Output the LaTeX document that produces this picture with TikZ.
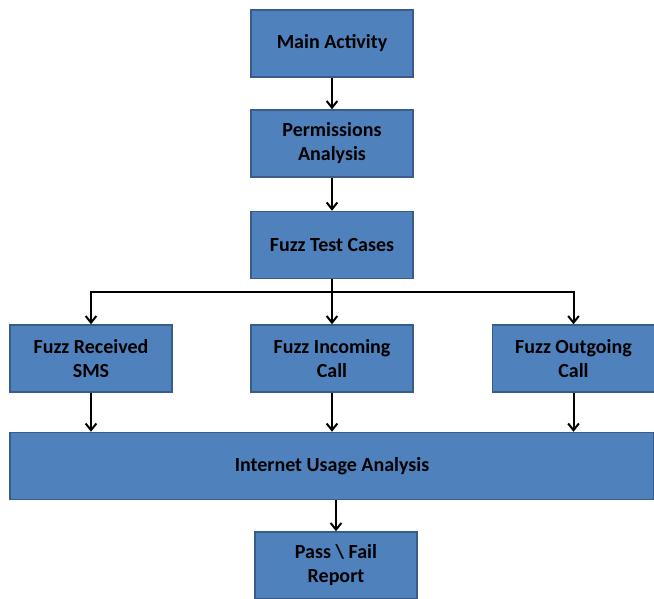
\documentclass[tikz,border=0pt]{standalone}
\usepackage{fontspec}
\setmainfont{Carlito}
\usetikzlibrary{arrows.meta}
\definecolor{boxfill}{HTML}{4F81BD}
\definecolor{boxline}{HTML}{385D8A}
\begin{document}
\begin{tikzpicture}[x=0.75pt,y=-0.75pt,
  stepbox/.style={draw=boxline,line width=1.1pt,fill=boxfill,minimum width=121.5pt,minimum height=50.25pt,
    align=center,font=\fontsize{15}{18}\selectfont\bfseries,inner sep=0pt},
  arr/.style={line width=1.5pt,-{Straight Barb[length=5pt,width=8pt,line width=1.5pt]}}]
\useasboundingbox (0,0) rectangle (654,599);
\node [stepbox] (main) at (332,43.5) {Main Activity};
\node [stepbox] (perm) at (332,143.5) {Permissions\\Analysis};
\node [stepbox] (test) at (332,245) {Fuzz Test Cases};
\coordinate (split) at (332,292);
\node [stepbox] (sms) at (91,358.5) {Fuzz Received\\SMS};
\node [stepbox] (inc) at (332,358.5) {Fuzz Incoming\\Call};
\node [stepbox] (out) at (573.5,358.5) {Fuzz Outgoing\\Call};
\node [stepbox,minimum width=483pt] (net) at (332,466) {Internet Usage Analysis};
\node [stepbox] (rep) at (336,565.5) {Pass \textbackslash\ Fail\\Report};
\draw [arr] (main) -- (perm);
\draw [arr] (perm) -- (test);
\draw [line width=1.5pt] (test) -- (split);
\draw [arr] (split) -| (sms);
\draw [arr] (split) -- (inc);
\draw [arr] (split) -| (out);
\draw [arr] (sms) -- (sms |- net.north);
\draw [arr] (inc) -- (net);
\draw [arr] (out) -- (out |- net.north);
\draw [arr] (net.south -| rep) -- (rep);
\end{tikzpicture}
\end{document}
